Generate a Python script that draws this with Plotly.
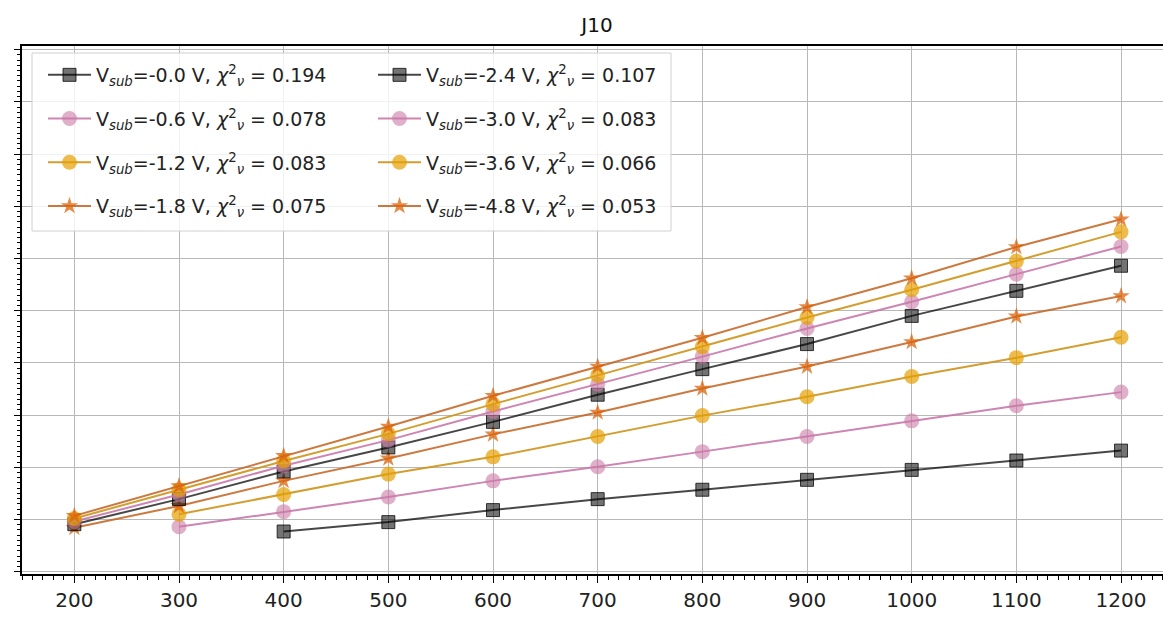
import plotly.graph_objects as go

# ---- data ----
x_all = [200, 300, 400, 500, 600, 700, 800, 900, 1000, 1100, 1200]

vsub = ["-0.0", "-0.6", "-1.2", "-1.8", "-2.4", "-3.0", "-3.6", "-4.8"]
chi2 = ["0.194", "0.078", "0.083", "0.075", "0.107", "0.083", "0.066", "0.053"]
start_x = [400, 300, 300, 200, 200, 200, 200, 200]

y_m00 = [0.77, 0.95, 1.18, 1.39, 1.57, 1.76, 1.95, 2.13, 2.32]
y_m06 = [0.86, 1.15, 1.43, 1.74, 2.01, 2.30, 2.59, 2.89, 3.18, 3.44]
y_m12 = [1.10, 1.48, 1.87, 2.20, 2.59, 2.99, 3.35, 3.74, 4.10, 4.49]
y_m18 = [0.84, 1.26, 1.74, 2.17, 2.63, 3.05, 3.51, 3.93, 4.40, 4.89, 5.28]
y_m24 = [0.91, 1.39, 1.92, 2.38, 2.87, 3.39, 3.88, 4.36, 4.90, 5.38, 5.86]
y_m30 = [0.96, 1.48, 2.03, 2.52, 3.07, 3.59, 4.12, 4.66, 5.17, 5.70, 6.23]
y_m36 = [1.02, 1.57, 2.12, 2.64, 3.21, 3.76, 4.31, 4.87, 5.40, 5.95, 6.51]
y_m48 = [1.07, 1.64, 2.22, 2.78, 3.37, 3.93, 4.48, 5.07, 5.62, 6.22, 6.75]
series_y = [y_m00, y_m06, y_m12, y_m18, y_m24, y_m30, y_m36, y_m48]

# ---- styles ----
styles = {
    "black": dict(line="rgba(0,0,0,0.72)", fill="rgba(0,0,0,0.55)", edge="rgba(0,0,0,0.75)", symbol="square", size=13),
    "pink": dict(line="rgba(196,112,165,0.85)", fill="rgba(204,121,167,0.6)", edge="rgba(204,121,167,0.0)", symbol="circle", size=15),
    "gold": dict(line="rgba(205,148,25,0.9)", fill="rgba(230,159,0,0.7)", edge="rgba(230,159,0,0.0)", symbol="circle", size=15),
    "orange": dict(line="rgba(195,98,30,0.85)", fill="rgba(220,100,10,0.75)", edge="rgba(213,94,0,0.0)", symbol="star", size=13),
}
style_order = ["black", "pink", "gold", "orange", "black", "pink", "gold", "orange"]

fig = go.Figure()
for i, ys in enumerate(series_y):
    xs = [x for x in x_all if x >= start_x[i]]
    st = styles[style_order[i]]
    name = (f"V<sub><i>sub</i></sub>={vsub[i]} V, "
            f"<i>χ</i><sup>2</sup><sub><i>ν</i></sub> = {chi2[i]}")
    fig.add_trace(go.Scatter(
        x=xs, y=ys, mode="lines+markers", name=name,
        line=dict(color=st["line"], width=2),
        marker=dict(symbol=st["symbol"], size=st["size"], color=st["fill"],
                    line=dict(color=st["edge"], width=1)),
        legend="legend" if i < 4 else "legend2",
        legendgroup=f"g{i}",
    ))

W, H = 1163, 617
ml, mr, mt, mb = 22, 0, 46, 43
pw, ph = W - ml - mr, H - mt - mb

def px_x(p):
    return (p - ml) / pw

def px_y(p):
    return (H - mb - p) / ph

font_family = "DejaVu Sans"
legend_common = dict(
    bgcolor="rgba(0,0,0,0)", borderwidth=0,
    font=dict(family=font_family, size=19, color="#222"),
    traceorder="grouped", tracegroupgap=16,
    xanchor="left", yanchor="top", itemwidth=43,
)

fig.update_layout(
    width=W, height=H,
    margin=dict(l=ml, r=mr, t=mt, b=mb, pad=0),
    paper_bgcolor="white", plot_bgcolor="white",
    font=dict(family=font_family, color="black"),
    title=dict(text="J10", x=px_x(597), xref="paper", xanchor="center",
               y=1 - 25 / H, yanchor="middle",
               font=dict(family=font_family, size=20, color="#111")),
    legend=dict(x=px_x(43), y=px_y(56), **legend_common),
    legend2=dict(x=px_x(373), y=px_y(56), **legend_common),
    shapes=[dict(type="rect", xref="paper", yref="paper",
                 x0=px_x(32), x1=px_x(671), y0=px_y(231), y1=px_y(53),
                 fillcolor="rgba(255,255,255,0.8)",
                 line=dict(color="#d0d0d0", width=1), layer="above")],
)

fig.update_xaxes(
    range=[150, 1240.1], dtick=100, tick0=0,
    showgrid=True, gridcolor="#b8b8b8", gridwidth=1.3,
    showline=True, linecolor="black", linewidth=1.5, mirror=True,
    ticks="outside", ticklen=7, tickwidth=1.3, tickcolor="black",
    tickfont=dict(family=font_family, size=20, color="#222"),
    zeroline=False,
    minor=dict(dtick=10, ticks="outside", ticklen=4, tickwidth=1, tickcolor="black", showgrid=False),
)
fig.update_yaxes(
    range=[-0.044, 10.07], dtick=1, tick0=0,
    showgrid=True, gridcolor="#b8b8b8", gridwidth=1.3,
    showline=True, linecolor="black", linewidth=1.5, mirror=False,
    ticks="outside", ticklen=6, tickwidth=1.3, tickcolor="black",
    showticklabels=False, zeroline=False,
    minor=dict(dtick=0.1, ticks="outside", ticklen=3.5, tickwidth=1, tickcolor="black", showgrid=False),
)

fig.write_html("out.html")
